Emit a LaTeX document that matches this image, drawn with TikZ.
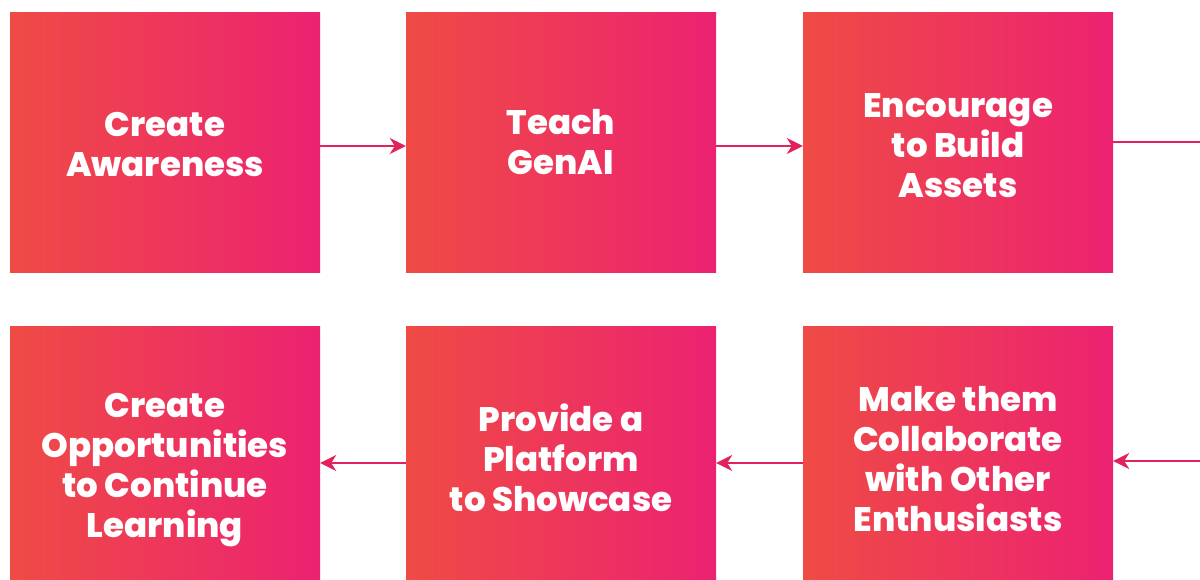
\documentclass[tikz,border=0pt]{standalone}
\usepackage{fontspec}
\IfFontExistsTF{Poppins ExtraBold}
  {\newfontfamily\boxfont{Poppins ExtraBold}}
  {\newfontfamily\boxfont{Poppins}[UprightFont=* Bold]}
\usetikzlibrary{arrows.meta}
\definecolor{gleft}{HTML}{EF4B45}
\definecolor{gright}{HTML}{EC2271}
\definecolor{conncol}{HTML}{E2225C}
\newcommand\lift[1]{\rule{0pt}{#1pt}}
\tikzset{
  stepbox/.style={rectangle, draw=none, left color=gleft, right color=gright,
    minimum width=310pt, minimum height=260pt, inner sep=0pt,
    text=white, align=center, font=\boxfont\fontsize{34}{40}\selectfont},
  conn/.style={draw=conncol, line width=2.4pt,
    -{Stealth[length=16pt,width=16pt,inset=5pt]}},
  connplain/.style={draw=conncol, line width=2.4pt}
}
\begin{document}
\begin{tikzpicture}[x=1pt,y=-1pt]
\path[use as bounding box] (0,0) rectangle (1200,579);
\clip (0,0) rectangle (1200,579);
\node[stepbox] (b1) at (165,142) {\lift{30}Create\\Awareness};
\node[stepbox] (b2) at (561,142) {\lift{26}Teach\\GenAI};
\node[stepbox] (b3) at (958,142) {\lift{31}Encourage\\to Build\\Assets};
\node[stepbox] (b4) at (165,456) {\lift{53}Create\\Opportunities\\to Continue\\Learning};
\node[stepbox] (b5) at (561,456) {\lift{31}Provide a\\Platform\\to Showcase};
\node[stepbox] (b6) at (958,456) {\lift{31}Make them\\Collaborate\\with Other\\Enthusiasts};
\coordinate (e1) at (1201,142);
\coordinate (e2) at (1201,461);
\draw[conn] ([yshift=-4pt]b1.east) -- ([yshift=-4pt]b2.west);
\draw[conn] ([yshift=-4pt]b2.east) -- ([yshift=-4pt]b3.west);
\draw[connplain] (b3.east) -- (e1);
\draw[conn] (e2) -- (b6.east |- e2);
\draw[conn] ([yshift=-7pt]b6.west) -- ([yshift=-7pt]b5.east);
\draw[conn] ([yshift=-7pt]b5.west) -- ([yshift=-7pt]b4.east);
\end{tikzpicture}
\end{document}
